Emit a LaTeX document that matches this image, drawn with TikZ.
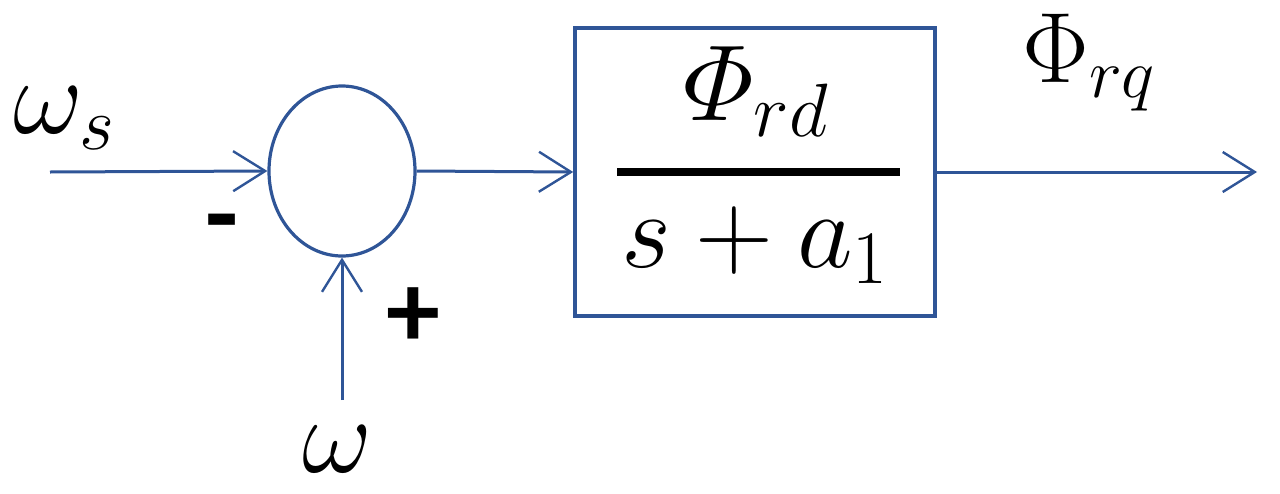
\RequirePackage{fix-cm}
\documentclass[tikz,border=0pt]{standalone}
\usepackage{amsmath}
\usepackage{fontspec}
\newfontfamily\signfont{Carlito}
\usetikzlibrary{arrows.meta,shapes.geometric}
\definecolor{lineblue}{RGB}{47,85,151}
\begin{document}
\begin{tikzpicture}[x=0.5pt,y=-0.5pt,
  conn/.style={draw=lineblue,line width=1.5pt,-{Straight Barb[length=16pt,width=20pt,line width=1.2pt]}},
  mathlbl/.style={inner sep=0pt,font=\fontsize{54}{64}\selectfont},
  sign/.style={inner sep=0pt,font=\signfont\bfseries\fontsize{54}{64}\selectfont}]
\useasboundingbox (0,0) rectangle (1280,493);
\node[ellipse,draw=lineblue,line width=1.6pt,minimum width=73pt,minimum height=85pt,inner sep=0pt] (sum) at (342,171) {};
\node[draw=lineblue,line width=1.8pt,minimum width=180pt,minimum height=144pt,inner sep=0pt] (blk) at (755,172) {};
\node[mathlbl,anchor=base] (num) at (756,120) {$\varPhi_{rd}$};
\node[mathlbl,anchor=base] (den) at (755,267) {$s+a_{1}$};
\draw[line width=4pt] (617,172) -- (900,172);
\node[mathlbl,anchor=base west] (ws) at (13,133) {$\omega_{s}$};
\node[mathlbl,anchor=base] (wl) at (337,472) {$\omega$};
\node[mathlbl,anchor=base west,font=\fontsize{50}{60}\selectfont] (prq) at (1022,82) {$\Phi_{rq}$};
\node[sign] (minus) at (222,232) {-};
\node[sign] (plus) at (413,318) {+};
\coordinate (in) at (50,172);
\coordinate (out) at (1257,172);
\coordinate (wb) at (342,400);
\draw[conn] (in) -- (sum.west);
\draw[conn] (sum.east) -- (blk.west);
\draw[conn] (blk.east) -- (out);
\draw[conn] (wb) -- (sum.south);
\end{tikzpicture}
\end{document}
